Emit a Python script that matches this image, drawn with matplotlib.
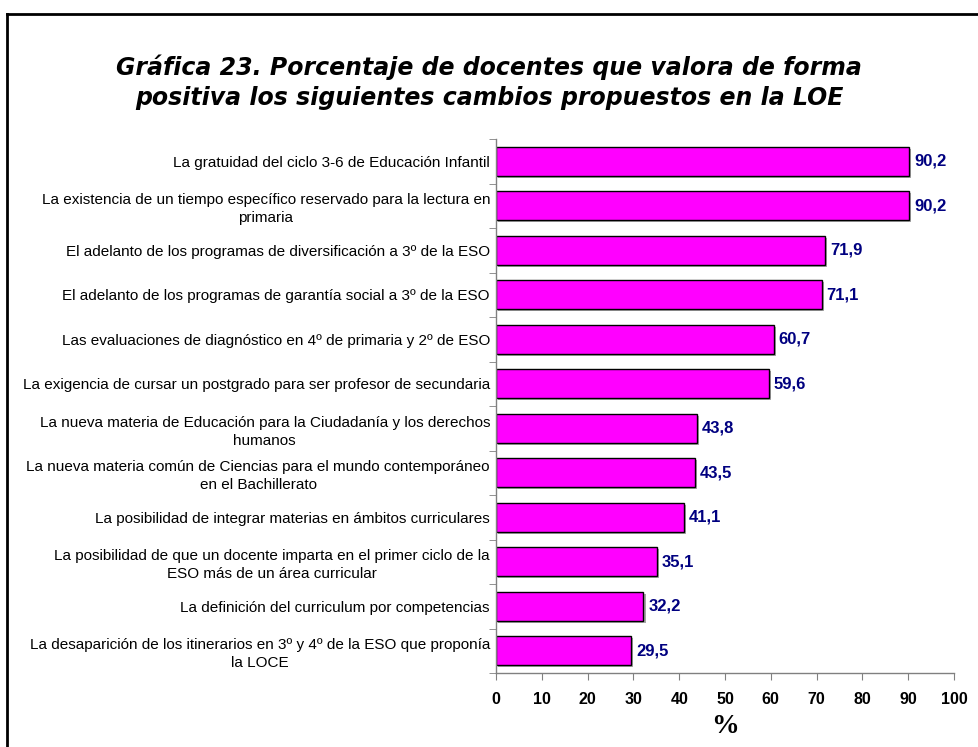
import matplotlib
matplotlib.use("Agg")
import matplotlib.pyplot as plt
import matplotlib.patheffects as pe
import matplotlib.transforms as mtransforms
from matplotlib.lines import Line2D
import numpy as np

categories = [
    "La gratuidad del ciclo 3-6 de Educación Infantil",
    "La existencia de un tiempo específico reservado para la lectura en\nprimaria",
    "El adelanto de los programas de diversificación a 3º de la ESO",
    "El adelanto de los programas de garantía social a 3º de la ESO",
    "Las evaluaciones de diagnóstico en 4º de primaria y 2º de ESO",
    "La exigencia de cursar un postgrado para ser profesor de secundaria",
    "La nueva materia de Educación para la Ciudadanía y los derechos\nhumanos",
    "La nueva materia común de Ciencias para el mundo contemporáneo\nen el Bachillerato",
    "La posibilidad de integrar materias en ámbitos curriculares",
    "La posibilidad de que un docente imparta en el primer ciclo de la\nESO más de un área curricular",
    "La definición del curriculum por competencias",
    "La desaparición de los itinerarios en 3º y 4º de la ESO que proponía\nla LOCE",
]
values = [90.2, 90.2, 71.9, 71.1, 60.7, 59.6, 43.8, 43.5, 41.1, 35.1, 32.2, 29.5]
xticks = [0, 10, 20, 30, 40, 50, 60, 70, 80, 90, 100]
title = "Gráfica 23. Porcentaje de docentes que valora de forma\npositiva los siguientes cambios propuestos en la LOE"

plt.rcParams['font.family'] = ['Liberation Sans', 'DejaVu Sans']

fig = plt.figure(figsize=(9.79, 7.47), dpi=100)
ax = fig.add_axes([496/979, 74/747, 458/979, 534/747])

n = len(categories)
y = np.arange(n)
ax.barh(y, values, height=0.65, color='#FF00FF', edgecolor='black', linewidth=1.0,
        path_effects=[pe.SimplePatchShadow(offset=(1.5, -1.5), shadow_rgbFace='#909090', alpha=0.8), pe.Normal()])
ax.set_ylim(n - 0.5, -0.5)
ax.set_xlim(0, 100)
ax.set_yticks(y)
ax.set_yticklabels(categories, fontsize=11, linespacing=1.35)
ax.set_yticks(np.arange(-0.5, n, 1), minor=True)
ax.tick_params(axis='y', which='major', length=0)
ax.tick_params(axis='y', which='minor', length=5, color='#808080', direction='out')
ax.set_xticks(xticks)
ax.set_xticklabels([str(t) for t in xticks], fontsize=11.5, fontweight='bold')
ax.tick_params(axis='x', length=5, color='#808080', direction='out', pad=9)

# center-align multi-line y tick labels with right edge near the axis
fig.canvas.draw()
renderer = fig.canvas.get_renderer()
for lbl in ax.get_yticklabels():
    w = lbl.get_window_extent(renderer).width
    lbl.set_horizontalalignment('center')
    lbl.set_multialignment('center')
    lbl.set_x(0)
    lbl.set_transform(ax.get_yaxis_transform() +
                      mtransforms.ScaledTranslation(-(w / 2 + 6) / 100, 0, fig.dpi_scale_trans))

for s in ['top', 'right']:
    ax.spines[s].set_visible(False)
for s in ['left', 'bottom']:
    ax.spines[s].set_color('#808080')
    ax.spines[s].set_linewidth(1.0)

for yi, v in zip(y, values):
    ax.annotate(f"{v:.1f}".replace('.', ','), xy=(v, yi), xytext=(3.5, 0), textcoords='offset points',
                ha='left', va='center', fontsize=12, fontweight='bold', color='#000080')

ax.set_xlabel('%', fontsize=20, fontweight='bold', family=['Liberation Serif', 'DejaVu Serif'], labelpad=5)

fig.text(489 / 979, 1 - 82 / 747, title, ha='center', va='center', fontsize=17,
         fontweight='bold', style='italic', linespacing=1.3, family=['DejaVu Sans'])

# border (top and left lines)
fig.add_artist(Line2D([7 / 979, 1.0], [1 - 14 / 747, 1 - 14 / 747], transform=fig.transFigure, color='black', linewidth=2))
fig.add_artist(Line2D([7 / 979, 7 / 979], [0, 1 - 14 / 747], transform=fig.transFigure, color='black', linewidth=2))

fig.savefig('out.png', dpi=100)
